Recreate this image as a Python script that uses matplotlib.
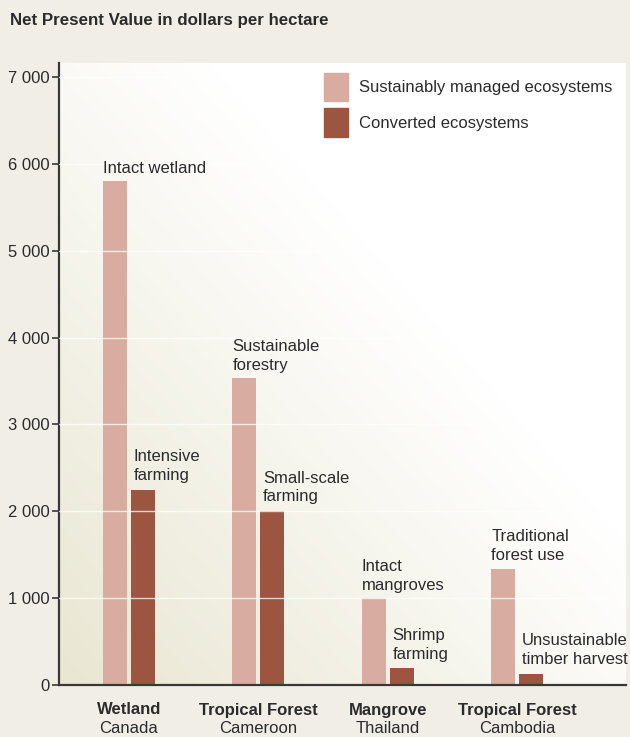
import numpy as np
import matplotlib
matplotlib.use("Agg")
import matplotlib.pyplot as plt
from matplotlib.patches import Patch

plt.rcParams.update({"font.family": ["Liberation Sans", "DejaVu Sans"], "font.size": 12})

# data
ecosystems = ["Wetland", "Tropical Forest", "Mangrove", "Tropical Forest"]
countries = ["Canada", "Cameroon", "Thailand", "Cambodia"]
sustainable = [5800, 3530, 1000, 1340]
converted = [2250, 2000, 190, 130]
sust_labels = ["Intact wetland", "Sustainable\nforestry", "Intact\nmangroves", "Traditional\nforest use"]
conv_labels = ["Intensive\nfarming", "Small-scale\nfarming", "Shrimp\nfarming", "Unsustainable\ntimber harvest"]
yticks = [0, 1000, 2000, 3000, 4000, 5000, 6000, 7000]

LIGHT = "#d8aca0"
DARK = "#9b5541"
BG = "#f1eee7"
INK = "#2b2b2b"

fig = plt.figure(figsize=(6.3, 7.37), dpi=100, facecolor=BG)
ax = fig.add_axes([59/630, 1 - 685/737, 567/630, 622/737])
ax.set_facecolor("white")

# diagonal gradient background: white in upper right, cream toward lower left
nx, ny = 300, 300
X, Y = np.meshgrid(np.linspace(0, 1, nx), np.linspace(1, 0, ny))
px = 59 + 567 * X
py = 685 - 622 * Y
s = np.clip(((py - 63) - 1.15 * (px - 208)) / 793.0, 0, 1)
white = np.array([1.0, 1.0, 1.0])
cream = np.array([0xe9, 0xe6, 0xd2]) / 255
img = white[None, None, :] * (1 - s[..., None]) + cream[None, None, :] * s[..., None]
ax.imshow(img, extent=[0, 1, 0, 1], transform=ax.transAxes, aspect="auto", zorder=0)

x = np.arange(len(ecosystems))
w = 0.186
off = 0.108
ax.bar(x - off, sustainable, width=w, color=LIGHT, zorder=2)
ax.bar(x + off, converted, width=w, color=DARK, zorder=2)

for yv in yticks[1:]:
    ax.axhline(yv, color="white", lw=1, alpha=0.75, zorder=3)

for i in range(len(x)):
    ax.annotate(sust_labels[i], (x[i] - off - w/2, sustainable[i]), xytext=(0, 4),
                textcoords="offset points", ha="left", va="bottom", color=INK,
                fontsize=12, linespacing=1.3, zorder=4)
    ax.annotate(conv_labels[i], (x[i] + off - w/2 + 0.02, converted[i]), xytext=(0, 5),
                textcoords="offset points", ha="left", va="bottom", color=INK,
                fontsize=12, linespacing=1.3, zorder=4)
    ax.annotate(ecosystems[i], (x[i], 0), xycoords=("data", "axes fraction"),
                xytext=(0, -18), textcoords="offset points", ha="center", va="center",
                fontsize=12, fontweight="bold", color=INK, annotation_clip=False)
    ax.annotate(countries[i], (x[i], 0), xycoords=("data", "axes fraction"),
                xytext=(0, -31), textcoords="offset points", ha="center", va="center",
                fontsize=12, color=INK, annotation_clip=False)

ax.set_xlim(-0.54, 3.84)
ax.set_ylim(0, 7160)
ax.set_yticks(yticks)
ax.set_yticklabels([f"{v:,}".replace(",", " ") for v in yticks])
ax.set_xticks([])
ax.tick_params(axis="y", length=5, width=1.2, color="#3a3836", pad=2, labelsize=12, labelcolor=INK)
for sp in ["top", "right"]:
    ax.spines[sp].set_visible(False)
for sp in ["left", "bottom"]:
    ax.spines[sp].set_color("#3a3836")
    ax.spines[sp].set_linewidth(1.6)

fig.text(10/630, 1 - 20/737, "Net Present Value in dollars per hectare", fontsize=12.2,
         fontweight="bold", color=INK, ha="left", va="center")

handles = [Patch(color=LIGHT), Patch(color=DARK)]
fig.legend(handles, ["Sustainably managed ecosystems", "Converted ecosystems"],
           loc="upper left", bbox_to_anchor=(324/630, 1 - 73/737), frameon=False,
           borderpad=0, borderaxespad=0, handlelength=1.45, handleheight=2.25,
           handletextpad=0.65, labelspacing=0.4, fontsize=12, labelcolor=INK)

fig.savefig("out.png", dpi=100, facecolor=BG)
